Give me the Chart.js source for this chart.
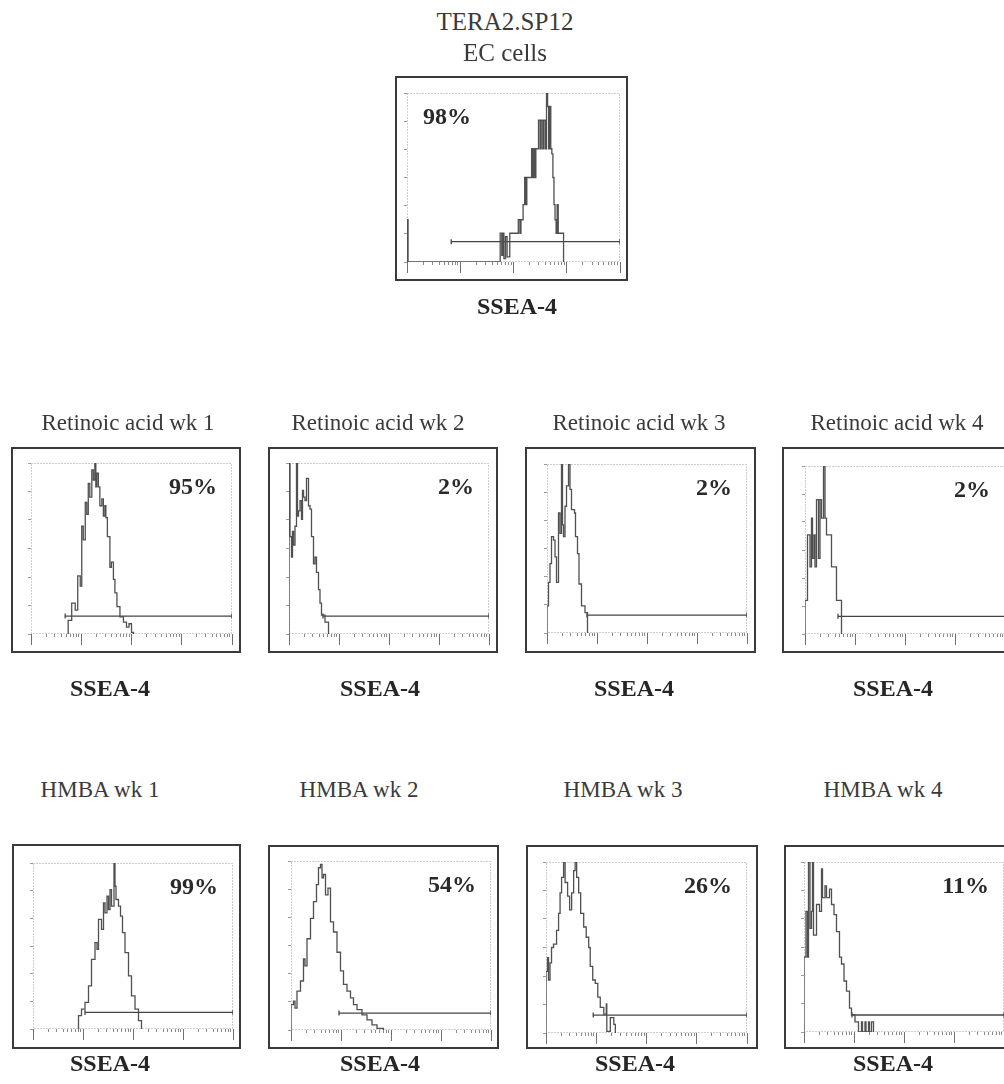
<!DOCTYPE html>
<html>
<head>
<meta charset="utf-8">
<script src="https://cdn.jsdelivr.net/npm/chart.js@4/dist/chart.umd.min.js"></script>
<style>
  html, body { margin: 0; padding: 0; background: #fff; width: 1004px; height: 1084px; overflow: hidden; }
  .txt { position: absolute; font-family: "Liberation Serif", "Times New Roman", serif; white-space: nowrap; line-height: 1; }
  .title { color: #3a3a3a; }
  .axis { font-weight: bold; color: #262626; font-size: 24px; }
  .pct { font-weight: bold; color: #2a2a2a; font-size: 24px; }
  .box { position: absolute; border: 2px solid #3a3a3a; box-sizing: border-box; pointer-events: none; }
  canvas { position: absolute; }
</style>
</head>
<body>
<script>
// SSEA-4 fluorescence histograms. x = log10 intensity (decades 0..4), y = cell count as % of the panel's peak channel.
const teraX = [0, 0, 0.02, 1.75, 1.78, 1.80, 1.82, 1.85, 1.88, 1.93, 2.09, 2.12, 2.14, 2.18, 2.21, 2.23, 2.25, 2.34, 2.36, 2.38, 2.40, 2.42, 2.47, 2.50, 2.52, 2.55, 2.57, 2.60, 2.62, 2.64, 2.66, 2.68, 2.70, 2.72, 2.74, 2.76, 2.78, 2.80, 2.82, 2.84, 2.94];
const teraY = [0, 25, 0, 17, 4, 17, 2, 15, 3, 17, 25, 17, 25, 34, 50, 34, 50, 67, 50, 67, 50, 67, 84, 67, 84, 67, 84, 67, 100, 92, 67, 92, 67, 64, 50, 34, 25, 17, 34, 17, 0];

const raWk1X = [0.74, 0.74, 0.81, 0.88, 0.93, 0.98, 1.01, 1.04, 1.08, 1.11, 1.14, 1.17, 1.21, 1.24, 1.27, 1.29, 1.31, 1.34, 1.37, 1.41, 1.44, 1.47, 1.49, 1.52, 1.57, 1.60, 1.64, 1.67, 1.71, 1.77, 1.84, 1.90, 1.95, 2.00, 2.04];
const raWk1Y = [0, 8, 18, 14, 34, 28, 63, 55, 77, 70, 88, 80, 96, 90, 100, 86, 94, 86, 75, 79, 69, 75, 68, 57, 39, 42, 32, 24, 16, 10, 7, 4, 6, 1, 0];

const raWk2X = [0, 0, 0.02, 0.05, 0.07, 0.09, 0.12, 0.15, 0.17, 0.19, 0.22, 0.25, 0.27, 0.29, 0.32, 0.35, 0.39, 0.42, 0.45, 0.49, 0.52, 0.55, 0.59, 0.62, 0.65, 0.72, 0.79];
const raWk2Y = [0, 100, 57, 45, 60, 52, 63, 100, 69, 72, 78, 67, 84, 80, 78, 91, 75, 73, 57, 41, 45, 36, 26, 18, 11, 7, 0];

const raWk3X = [0, 0, 0.03, 0.06, 0.09, 0.13, 0.16, 0.19, 0.23, 0.26, 0.29, 0.31, 0.33, 0.36, 0.39, 0.43, 0.46, 0.49, 0.55, 0.57, 0.61, 0.64, 0.69, 0.76, 0.81];
const raWk3Y = [0, 16, 30, 41, 57, 55, 45, 30, 71, 59, 100, 64, 57, 75, 87, 100, 85, 73, 71, 57, 47, 29, 16, 12, 0];

const raWk4X = [0, 0, 0.05, 0.10, 0.13, 0.15, 0.18, 0.20, 0.23, 0.27, 0.30, 0.33, 0.37, 0.40, 0.43, 0.49, 0.53, 0.63, 0.73];
const raWk4Y = [0, 20, 59, 40, 69, 45, 59, 40, 80, 45, 80, 69, 100, 69, 59, 59, 40, 20, 0];

const hmbaWk1X = [0.91, 0.91, 0.97, 1.04, 1.11, 1.17, 1.24, 1.28, 1.31, 1.37, 1.41, 1.44, 1.48, 1.51, 1.54, 1.57, 1.62, 1.64, 1.66, 1.71, 1.75, 1.79, 1.84, 1.91, 1.97, 2.04, 2.11, 2.17];
const hmbaWk1Y = [0, 8, 12, 16, 26, 42, 52, 48, 66, 60, 76, 70, 80, 72, 84, 74, 100, 86, 78, 74, 68, 58, 46, 32, 20, 12, 5, 0];

const hmbaWk2X = [0, 0, 0.05, 0.08, 0.12, 0.19, 0.25, 0.28, 0.32, 0.39, 0.45, 0.51, 0.55, 0.59, 0.62, 0.65, 0.69, 0.74, 0.79, 0.85, 0.92, 0.99, 1.05, 1.12, 1.19, 1.25, 1.32, 1.42, 1.52, 1.62, 1.72, 1.85];
const hmbaWk2Y = [0, 15, 17, 13, 23, 29, 42, 38, 54, 66, 76, 86, 96, 98, 90, 92, 80, 84, 64, 58, 46, 35, 27, 23, 19, 15, 12, 9, 6, 3, 1, 0];

const hmbaWk3X = [0, 0, 0.03, 0.05, 0.08, 0.11, 0.15, 0.21, 0.25, 0.28, 0.31, 0.35, 0.38, 0.43, 0.47, 0.51, 0.55, 0.58, 0.61, 0.65, 0.69, 0.75, 0.80, 0.85, 0.88, 0.93, 0.98, 1.03, 1.08, 1.15, 1.20, 1.21, 1.28, 1.35, 1.38];
const hmbaWk3Y = [0, 36, 44, 31, 41, 50, 52, 60, 70, 82, 91, 100, 88, 80, 72, 82, 95, 100, 91, 82, 70, 62, 56, 50, 39, 31, 29, 21, 15, 11, 17, 1, 9, 5, 0];

const hmbaWk4X = [0, 0, 0.04, 0.07, 0.09, 0.12, 0.15, 0.17, 0.19, 0.22, 0.25, 0.31, 0.35, 0.37, 0.39, 0.42, 0.45, 0.51, 0.55, 0.60, 0.65, 0.71, 0.75, 0.80, 0.85, 0.91, 0.95, 1.02, 1.07, 1.09, 1.15, 1.17, 1.22, 1.24, 1.29, 1.31, 1.35, 1.39];
const hmbaWk4Y = [0, 44, 71, 44, 100, 61, 71, 100, 57, 57, 75, 71, 96, 79, 79, 86, 79, 84, 75, 69, 59, 44, 40, 30, 24, 14, 10, 6, 6, 0, 6, 0, 6, 0, 6, 0, 6, 0];

// Marker (gate) for SSEA-4 positive cells: start decade, end decade, drawn height (% of peak)
const gateStart = [0.83, 0.68, 0.68, 0.80, 0.66, 1.04, 0.96, 0.94, 0.96];
const gateEnd   = [4, 4, 4, 4, 4, 4, 4, 4, 4];
const gateLevel = [12, 10.5, 10.5, 10.6, 10.5, 10, 10, 10.5, 10];

// Percentage of positive cells in each panel
const percentLabels = ['98%', '95%', '2%', '2%', '2%', '99%', '54%', '26%', '11%'];
const panelTitles = ['TERA2.SP12|EC cells', 'Retinoic acid wk 1', 'Retinoic acid wk 2', 'Retinoic acid wk 3', 'Retinoic acid wk 4',
                     'HMBA wk 1', 'HMBA wk 2', 'HMBA wk 3', 'HMBA wk 4'];
const axisTitle = 'SSEA-4';
const decadeTicks = [0, 1, 2, 3, 4];

const seriesX = [teraX, raWk1X, raWk2X, raWk3X, raWk4X, hmbaWk1X, hmbaWk2X, hmbaWk3X, hmbaWk4X];
const seriesY = [teraY, raWk1Y, raWk2Y, raWk3Y, raWk4Y, hmbaWk1Y, hmbaWk2Y, hmbaWk3Y, hmbaWk4Y];

// Page layout: outer box (left, top, w, h), plot area offset inside it (ix, iy, iw, ih),
// title and x-label centres, and where the percentage sits.
const layout = [
  { left: 395, top: 76,  w: 233, h: 205, ix: 12, iy: 17, iw: 213, ih: 169, titleX: 505, titleY: [22, 52.5], titleSize: 25, labX: 517, labY: 306, pctAlign: 'left' },
  { left: 11,  top: 447, w: 230, h: 206, ix: 20, iy: 16, iw: 201, ih: 171, titleX: 128, titleY: [423], titleSize: 23, labX: 110, labY: 688, pctAlign: 'right' },
  { left: 268, top: 447, w: 230, h: 206, ix: 21, iy: 16, iw: 200, ih: 171, titleX: 378, titleY: [423], titleSize: 23, labX: 380, labY: 688, pctAlign: 'right' },
  { left: 525, top: 447, w: 231, h: 206, ix: 22, iy: 17, iw: 200, ih: 169, titleX: 639, titleY: [423], titleSize: 23, labX: 634, labY: 688, pctAlign: 'right' },
  { left: 782, top: 447, w: 231, h: 206, ix: 23, iy: 19, iw: 200, ih: 168, titleX: 897, titleY: [423], titleSize: 23, labX: 893, labY: 688, pctAlign: 'right' },
  { left: 12,  top: 844, w: 229, h: 205, ix: 21, iy: 19, iw: 200, ih: 166, titleX: 100, titleY: [790], titleSize: 23, labX: 110, labY: 1063, pctAlign: 'right' },
  { left: 268, top: 845, w: 231, h: 204, ix: 23, iy: 16, iw: 200, ih: 169, titleX: 359, titleY: [790], titleSize: 23, labX: 380, labY: 1063, pctAlign: 'right' },
  { left: 526, top: 845, w: 232, h: 204, ix: 20, iy: 17, iw: 201, ih: 171, titleX: 623, titleY: [790], titleSize: 23, labX: 635, labY: 1063, pctAlign: 'right' },
  { left: 784, top: 845, w: 231, h: 204, ix: 20, iy: 17, iw: 200, ih: 170, titleX: 883, titleY: [790], titleSize: 23, labX: 893, labY: 1063, pctAlign: 'right' }
];

// Log-decade minor tick positions (1..9 within each decade)
const minorTicks = [];
for (let d = 0; d < 4; d++) for (let k = 1; k <= 9; k++) minorTicks.push(d + Math.log10(k));
minorTicks.push(4);

// Dotted frame round the plot area
const framePlugin = {
  id: 'frame',
  beforeDatasetsDraw(chart) {
    const a = chart.chartArea, c = chart.ctx;
    c.save();
    c.strokeStyle = '#9a9a9a';
    c.lineWidth = 1;
    c.setLineDash([1, 2]);
    c.strokeRect(a.left + 0.5, a.top + 0.5, a.right - a.left - 1, a.bottom - a.top - 1);
    c.restore();
  }
};

function addText(str, cx, capCenter, size, cls) {
  const el = document.createElement('div');
  el.className = 'txt ' + cls;
  el.textContent = str;
  el.style.fontSize = size + 'px';
  el.style.left = cx + 'px';
  el.style.top = (capCenter - 0.506 * size) + 'px';
  el.style.transform = 'translateX(-50%)';
  document.body.appendChild(el);
}

layout.forEach((p, i) => {
  const canvas = document.createElement('canvas');
  canvas.width = p.w; canvas.height = p.h;
  canvas.style.left = p.left + 'px';
  canvas.style.top = p.top + 'px';
  document.body.appendChild(canvas);

  const box = document.createElement('div');
  box.className = 'box';
  Object.assign(box.style, { left: p.left + 'px', top: p.top + 'px', width: p.w + 'px', height: p.h + 'px' });
  document.body.appendChild(box);

  const hist = seriesX[i].map((x, k) => ({ x, y: seriesY[i][k] }));
  const gate = [{ x: gateStart[i], y: gateLevel[i] }, { x: gateEnd[i], y: gateLevel[i] }];

  new Chart(canvas, {
    type: 'line',
    data: {
      datasets: [
        { data: hist, stepped: true, borderColor: '#505050', borderWidth: 1.3, pointRadius: 0, fill: false },
        { data: gate, borderColor: '#444', borderWidth: 1.3, pointStyle: 'line', rotation: 90,
          pointRadius: 2.5, pointBorderColor: '#444', pointBorderWidth: 1.3, pointBackgroundColor: '#444' }
      ]
    },
    options: {
      responsive: false,
      animation: false,
      devicePixelRatio: 1,
      events: [],
      layout: { padding: { left: p.ix, top: p.iy, right: p.w - p.ix - p.iw, bottom: p.h - p.iy - p.ih } },
      plugins: { legend: { display: false }, tooltip: { enabled: false } },
      scales: {
        x: {
          type: 'linear', min: 0, max: 4, position: 'bottom', weight: 0,
          afterBuildTicks: s => { s.ticks = minorTicks.map(v => ({ value: v })); },
          afterFit: s => { s.height = 0; },
          ticks: { display: false },
          grid: { drawOnChartArea: false, drawTicks: true, tickLength: 3, tickColor: '#8a8a8a', tickWidth: 1 },
          border: { display: false }
        },
        xDecade: {
          type: 'linear', min: 0, max: 4, position: 'bottom', weight: 1,
          afterBuildTicks: s => { s.ticks = decadeTicks.map(v => ({ value: v })); },
          afterFit: s => { s.height = 0; },
          ticks: { display: false },
          grid: { drawOnChartArea: false, drawTicks: true, tickLength: 11, tickColor: '#707070', tickWidth: 1 },
          border: { display: false }
        },
        y: {
          min: 0, max: 100, position: 'left',
          afterBuildTicks: s => { s.ticks = [0, 1, 2, 3, 4, 5, 6].map(k => ({ value: k * 100 / 6 })); },
          afterFit: s => { s.width = 0; },
          ticks: { display: false },
          grid: { drawOnChartArea: false, drawTicks: true, tickLength: 3, tickColor: '#9a9a9a', tickWidth: 1 },
          border: { display: false }
        }
      }
    },
    plugins: [framePlugin]
  });

  // Titles above, axis name below
  panelTitles[i].split('|').forEach((line, j) => addText(line, p.titleX, p.titleY[j], p.titleSize, 'title'));
  addText(axisTitle, p.labX, p.labY, 24, 'axis');

  // Percentage of SSEA-4 positive cells
  const pct = document.createElement('div');
  pct.className = 'txt pct';
  pct.textContent = percentLabels[i];
  const innerLeft = p.left + p.ix, innerRight = p.left + p.ix + p.iw, innerTop = p.top + p.iy;
  pct.style.top = (innerTop + 31 - 0.8375 * 24) + 'px';
  if (p.pctAlign === 'left') {
    pct.style.left = (innerLeft + 16) + 'px';
  } else {
    pct.style.left = (innerRight - 15) + 'px';
    pct.style.transform = 'translateX(-100%)';
  }
  document.body.appendChild(pct);
});
</script>
</body>
</html>
